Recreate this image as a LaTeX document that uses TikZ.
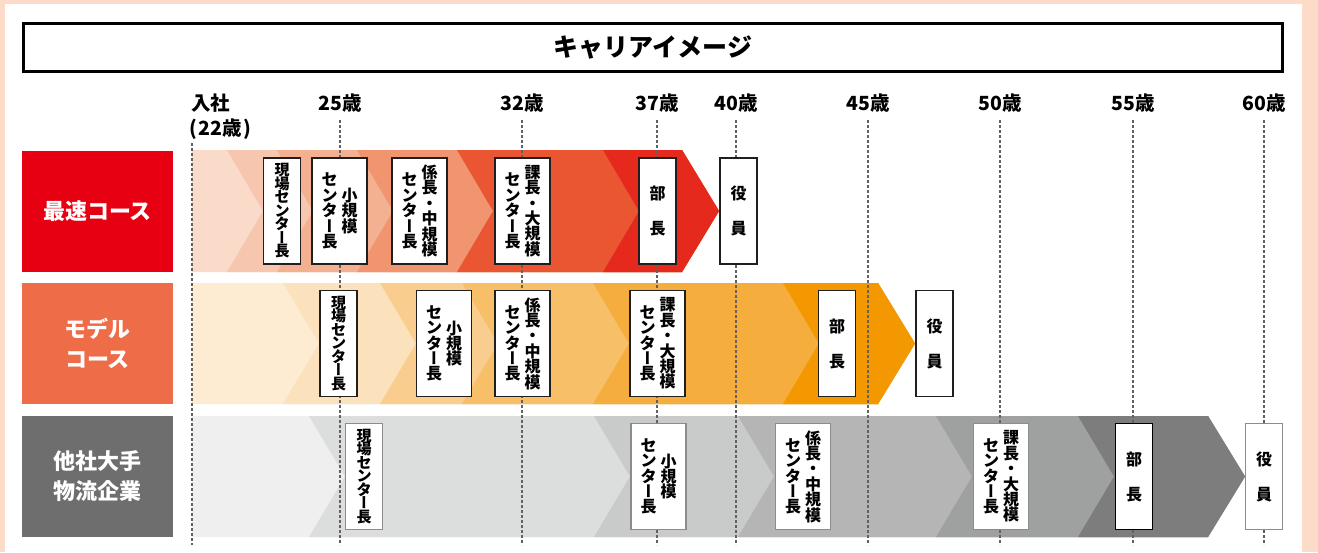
\documentclass[tikz,border=0pt]{standalone}
\usepackage{fontspec}
\setmainfont{Noto Sans CJK JP}
\definecolor{peach}{HTML}{FCDCC8}
\definecolor{lbA}{HTML}{E60012}
\definecolor{lbB}{HTML}{EE6C47}
\definecolor{lbC}{HTML}{6E6E6E}
\definecolor{rAa}{HTML}{FADBCA}
\definecolor{rAb}{HTML}{F7C6AF}
\definecolor{rAc}{HTML}{F4B192}
\definecolor{rAd}{HTML}{F09570}
\definecolor{rAe}{HTML}{EA5532}
\definecolor{rAf}{HTML}{E52A1D}
\definecolor{rBa}{HTML}{FDEBD2}
\definecolor{rBb}{HTML}{FBE1BC}
\definecolor{rBc}{HTML}{F9CD8D}
\definecolor{rBd}{HTML}{F8BF69}
\definecolor{rBe}{HTML}{F5AD3E}
\definecolor{rBf}{HTML}{F39800}
\definecolor{rCa}{HTML}{EFEFEF}
\definecolor{rCb}{HTML}{DCDDDD}
\definecolor{rCc}{HTML}{C9CACA}
\definecolor{rCd}{HTML}{B5B5B6}
\definecolor{rCe}{HTML}{9FA0A0}
\definecolor{rCf}{HTML}{7D7D7D}
\newcommand\vcol[1]{$\vcenter{\let\\\cr\lineskiplimit=-100pt\lineskip=0pt\halign{\hfil##\hfil\cr#1\crcr}}$}
\newcommand\vbar{{\addfontfeature{RawFeature=+vert}ー}}
\newcommand\genbatxt{{\fontsize{15}{13.5}\selectfont\bfseries\vcol{現\\場\\セ\\ン\\タ\\\vbar\\長}}}
\newcommand\twocol[2]{{\fontsize{16}{15.4}\selectfont\bfseries\vcol{#1}\hspace{4pt}\vcol{#2}}}
\newcommand\ctr{セ\\ン\\タ\\\vbar\\長}
\newcommand\shotxt{\twocol{\ctr}{小\\規\\模}}
\newcommand\kakaritxt{\twocol{\ctr}{係\\長\\・\\中\\規\\模}}
\newcommand\kachotxt{\twocol{\ctr}{課\\長\\・\\大\\規\\模}}
\newcommand\buchotxt{{\fontsize{16}{35}\selectfont\bfseries\vcol{部\\長}}}
\newcommand\yakuintxt{{\fontsize{16}{35}\selectfont\bfseries\vcol{役\\員}}}
% chevron segment: color, left x, top, bottom, rect end, tip, mid
\newcommand\chev[7]{\fill[#1] (#2,#3) -- (#5,#3) -- (#6,#7) -- (#5,#4) -- (#2,#4) -- ({#2+36},#7) -- cycle;}
\begin{document}
\begin{tikzpicture}[x=1pt,y=-1pt,
  dotline/.style={draw=black!62, line width=1.1pt, dash pattern=on 2.6pt off 2.4pt},
  rowlabel/.style={inner sep=0, minimum width=151, minimum height=121, text=white, font=\fontsize{22}{30}\selectfont\bfseries, align=center},
  jbox/.style={draw=black!88, line width=1.1pt, fill=white, inner sep=0, minimum height=106},
  gbox/.style={jbox, draw=black!45},
  sbox/.style={minimum width=37},
  dbox/.style={minimum width=55},
  agelabel/.style={font=\fontsize{19.5}{21}\selectfont\bfseries, inner sep=0}
]
\useasboundingbox (0,0) rectangle (1318,552);
\fill[peach] (0,0) rectangle (1318,552);
\fill[white] (5,4) rectangle (1302,552);

% title
\node[draw=black, line width=3pt, fill=white, minimum width=1259, minimum height=48, inner sep=0,
  font=\fontsize{25}{28}\selectfont\bfseries] (title) at (653,47.5) {キャリアイメージ};

% age labels
\node[agelabel, anchor=west] (a22) at (191,103) {入社};
\node[agelabel, anchor=west] (a22b) at (189,129) {(\kern1.5pt 22歳\kern1.5pt)};
\foreach \n/\x in {25/340,32/522,37/657,40/736,45/868,50/1000,55/1133,60/1264}
  \node[agelabel] (a\n) at (\x,103) {\n{}歳};

% row labels
\node[rowlabel, fill=lbA] (labA) at (97.5,211) {最速コース};
\node[rowlabel, fill=lbB] (labB) at (97.5,343.5) {モデル\\コース};
\node[rowlabel, fill=lbC] (labC) at (97.5,476.5) {他社大手\\物流企業};

% row 1 band
\fill[rAa] (192,150) -- (682,150) -- (719,211) -- (682,272) -- (192,272) -- cycle;
\chev{rAb}{227}{150}{272}{682}{719}{211}
\chev{rAc}{277}{150}{272}{682}{719}{211}
\chev{rAd}{357}{150}{272}{682}{719}{211}
\chev{rAe}{457}{150}{272}{682}{719}{211}
\chev{rAf}{603}{150}{272}{682}{719}{211}

% row 2 band
\fill[rBa] (192,283) -- (878,283) -- (915,343.5) -- (878,404) -- (192,404) -- cycle;
\chev{rBb}{283}{283}{404}{878}{915}{343.5}
\chev{rBc}{380}{283}{404}{878}{915}{343.5}
\chev{rBd}{462}{283}{404}{878}{915}{343.5}
\chev{rBe}{593}{283}{404}{878}{915}{343.5}
\chev{rBf}{783}{283}{404}{878}{915}{343.5}

% row 3 band
\fill[rCa] (192,416) -- (1208,416) -- (1245,476.5) -- (1208,537) -- (192,537) -- cycle;
\chev{rCb}{309}{416}{537}{1208}{1245}{476.5}
\chev{rCc}{594}{416}{537}{1208}{1245}{476.5}
\chev{rCd}{738}{416}{537}{1208}{1245}{476.5}
\chev{rCe}{936}{416}{537}{1208}{1245}{476.5}
\chev{rCf}{1078}{416}{537}{1208}{1245}{476.5}

% dotted guide lines
\coordinate (g22t) at (192,143); \coordinate (g22b) at (192,545);
\draw[dotline] (g22t) -- (g22b);
\foreach \n/\x in {25/340,32/522,37/657,40/736,45/868,50/1000,55/1133,60/1264}{
  \coordinate (g\n t) at (\x,120); \coordinate (g\n b) at (\x,545);
  \draw[dotline] (g\n t) -- (g\n b);
}

% row 1 boxes
\node[jbox, sbox] (A1) at (282,211) {\genbatxt};
\node[jbox, dbox] (A2) at (339.5,211) {\shotxt};
\node[jbox, dbox] (A3) at (419.5,211) {\kakaritxt};
\node[jbox, dbox] (A4) at (522.5,211) {\kachotxt};
\node[jbox, sbox] (A5) at (657.5,211) {\buchotxt};
\node[jbox, sbox] (A6) at (738.5,211) {\yakuintxt};

% row 2 boxes
\node[jbox, sbox] (B1) at (338.5,343.5) {\genbatxt};
\node[jbox, dbox] (B2) at (444,343.5) {\shotxt};
\node[jbox, dbox] (B3) at (522.5,343.5) {\kakaritxt};
\node[jbox, dbox] (B4) at (657.5,343.5) {\kachotxt};
\node[jbox, sbox] (B5) at (837,343.5) {\buchotxt};
\node[jbox, sbox] (B6) at (934.5,343.5) {\yakuintxt};

% row 3 boxes
\node[gbox, sbox] (C1) at (364,476.5) {\genbatxt};
\node[gbox, dbox] (C2) at (658.5,476.5) {\shotxt};
\node[gbox, dbox] (C3) at (803,476.5) {\kakaritxt};
\node[gbox, dbox] (C4) at (1001,476.5) {\kachotxt};
\node[jbox, sbox, draw=black] (C5) at (1134,476.5) {\buchotxt};
\node[gbox, sbox] (C6) at (1264,476.5) {\yakuintxt};
\end{tikzpicture}
\end{document}
